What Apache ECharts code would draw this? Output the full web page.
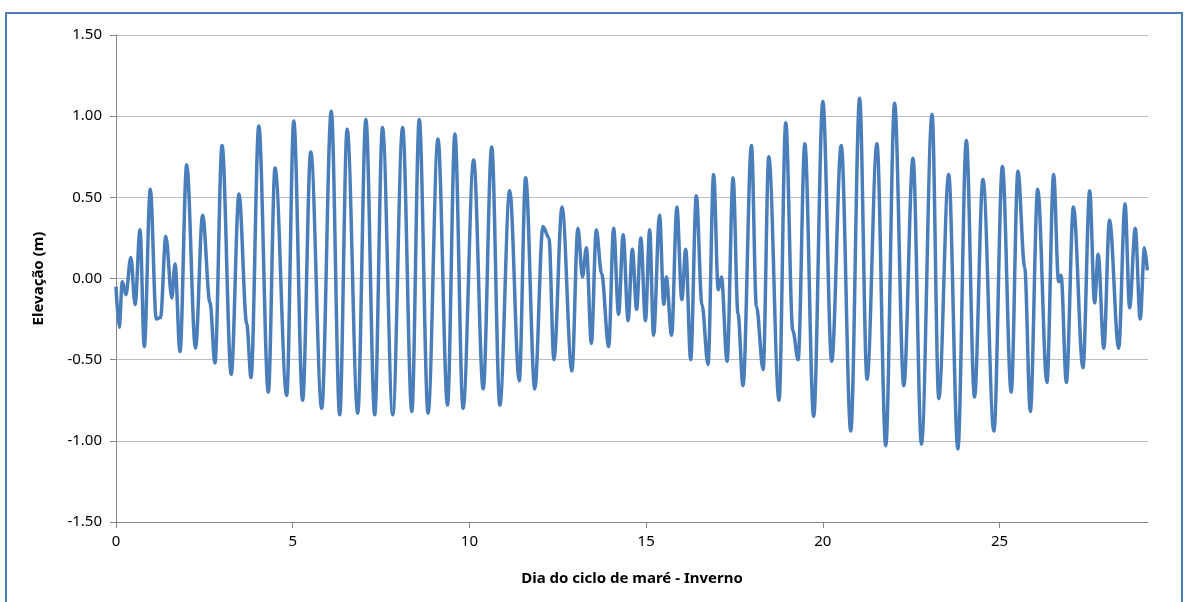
<!DOCTYPE html>
<html><head><meta charset="utf-8">
<script src="https://cdn.jsdelivr.net/npm/echarts@6/dist/echarts.min.js"></script>
<style>html,body{margin:0;padding:0;background:#fff}#c{width:1186px;height:602px}</style>
</head><body><div id="c"></div>
<script>
// Tide elevation: turning points (day, metres)
const days = [0,0.09,0.18,0.28,0.42,0.54,0.68,0.80,0.97,1.14,1.26,1.41,1.58,1.67,1.81,2.00,2.25,2.45,2.66,2.80,3.00,3.26,3.48,3.70,3.82,4.04,4.31,4.50,4.83,5.03,5.28,5.51,5.82,6.09,6.33,6.54,6.84,7.07,7.32,7.54,7.83,8.11,8.37,8.58,8.83,9.11,9.38,9.59,9.82,10.12,10.39,10.63,10.86,11.14,11.41,11.59,11.85,12.08,12.25,12.39,12.62,12.90,13.07,13.20,13.31,13.45,13.59,13.74,13.94,14.08,14.22,14.35,14.49,14.61,14.73,14.85,14.98,15.10,15.21,15.38,15.50,15.57,15.72,15.87,16.01,16.12,16.26,16.42,16.58,16.75,16.91,17.04,17.13,17.29,17.46,17.60,17.74,17.98,18.12,18.31,18.47,18.76,18.95,19.15,19.30,19.49,19.74,20.00,20.25,20.52,20.79,21.04,21.25,21.53,21.78,22.03,22.29,22.55,22.79,23.09,23.28,23.56,23.82,24.06,24.29,24.53,24.84,25.08,25.33,25.52,25.71,25.87,26.08,26.34,26.53,26.67,26.74,26.89,27.09,27.36,27.55,27.69,27.79,27.95,28.11,28.37,28.55,28.68,28.84,28.98,29.10,29.18];
const elevation = [-0.05,-0.30,-0.02,-0.10,0.13,-0.16,0.30,-0.42,0.55,-0.25,-0.24,0.26,-0.12,0.09,-0.45,0.70,-0.43,0.39,-0.15,-0.52,0.82,-0.59,0.52,-0.28,-0.61,0.94,-0.70,0.68,-0.72,0.97,-0.75,0.78,-0.80,1.03,-0.84,0.92,-0.83,0.98,-0.84,0.93,-0.84,0.93,-0.82,0.98,-0.83,0.86,-0.78,0.89,-0.80,0.73,-0.68,0.81,-0.78,0.54,-0.63,0.62,-0.68,0.32,0.25,-0.50,0.44,-0.57,0.31,0.01,0.19,-0.40,0.30,0.03,-0.42,0.31,-0.22,0.27,-0.26,0.18,-0.19,0.25,-0.26,0.30,-0.35,0.39,-0.16,0.01,-0.35,0.44,-0.13,0.18,-0.50,0.51,-0.16,-0.53,0.64,-0.07,0.01,-0.51,0.62,-0.22,-0.66,0.82,-0.17,-0.56,0.75,-0.75,0.96,-0.32,-0.50,0.83,-0.85,1.09,-0.51,0.82,-0.94,1.11,-0.62,0.83,-1.03,1.08,-0.66,0.74,-1.02,1.01,-0.74,0.64,-1.05,0.85,-0.73,0.61,-0.94,0.69,-0.70,0.66,0.07,-0.82,0.55,-0.64,0.64,-0.02,0.02,-0.64,0.44,-0.55,0.54,-0.15,0.15,-0.43,0.36,-0.43,0.46,-0.18,0.31,-0.25,0.19,0.05];
const yTicks = [-1.5,-1.0,-0.5,0,0.5,1.0,1.5];
const xTicks = [0,5,10,15,20,25];

const chart = echarts.init(document.getElementById('c'), null, {renderer:'canvas'});
const font = 'Noto Sans';
chart.setOption({
  animation:false,
  backgroundColor:'#fff',
  graphic:[{type:'rect',shape:{x:6,y:13,width:1176,height:600},style:{fill:'none',stroke:'#4A7EBB',lineWidth:2},silent:true,z:-1}],
  grid:{left:116,right:38,top:35,bottom:80},
  xAxis:{type:'value',min:0,max:29.2,interval:5,
    name:'Dia do ciclo de maré - Inverno',nameLocation:'middle',nameGap:49,
    nameTextStyle:{fontFamily:font,fontSize:15,fontWeight:'bold',color:'#000'},
    axisLine:{show:true,onZero:false,lineStyle:{color:'#868686',width:1}},
    axisTick:{show:true,length:6,lineStyle:{color:'#868686'}},
    splitLine:{show:false},
    axisLabel:{fontFamily:font,fontSize:15,color:'#000',margin:12,showMaxLabel:false,
      formatter:function(v){return xTicks.indexOf(v)>=0?String(v):'';}}
  },
  yAxis:{type:'value',min:yTicks[0],max:yTicks[yTicks.length-1],interval:0.5,
    name:'Elevação (m)',nameLocation:'middle',nameGap:70,
    nameTextStyle:{fontFamily:font,fontSize:15,fontWeight:'bold',color:'#000'},
    axisLine:{show:true,onZero:false,lineStyle:{color:'#868686',width:1}},
    axisTick:{show:true,length:6,lineStyle:{color:'#868686'}},
    splitLine:{show:true,lineStyle:{color:'#bdbdbd',width:1}},
    axisLabel:{fontFamily:font,fontSize:15,color:'#000',margin:14,
      formatter:function(v){return v.toFixed(2);}}
  },
  series:[{type:'line',data:days.map((d,i)=>[d,elevation[i]]),
    showSymbol:false,smooth:0.35,smoothMonotone:'x',
    lineStyle:{color:'#4A7EBB',width:3.5},clip:true}]
});
</script></body></html>
